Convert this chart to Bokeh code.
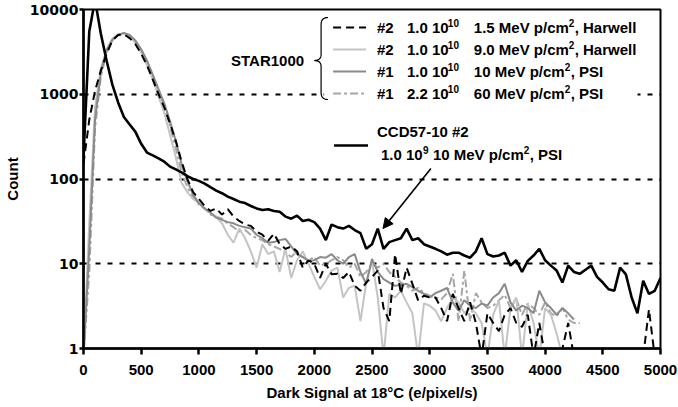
import numpy as np
from bokeh.plotting import figure
from bokeh.models import (ColumnDataSource, FixedTicker, NumeralTickFormatter, Label,
                          Arrow, NormalHead, Range1d)
from bokeh.embed import file_html
from bokeh.resources import INLINE

nan = float("nan")

# ---------------- data ----------------
dark_signal = list(range(0, 5001, 50))

ccd57_10MeV = [180, 5500, 13000, 5200, 2500, 1300, 800, 540, 440, 360,
               260, 205, 190, 175, 160, 140, 130, 120, 108, 100,
               95, 88, 80, 73, 68, 62, 58, 54, 52, 48,
               45, 43, 44, 42, 41, 36, 34, 37, 32, 33,
               31, 26, 19, 29, 27, 26, 28, 25, 23, 15,
               17, 26, 15, 18, 19, 20, 26, 19, 20, 17,
               16, 15, 14, 12.8, 13.5, 13.5, 12.5, 11.8, 14, 20,
               13, 12.2, 12.5, 13.5, 9.5, 11, 8, 10.8, 12.5, 15,
               11, 9.5, 8.3, 6, 9.5, 8, 7.6, 8.5, 9.5, 7,
               6, 5, 4.8, 9, 7.5, 4, 2.6, 6.3, 4.4, 4.8,
               6.8]

star2_1p5MeV = [150, 500, 1100, 1900, 3000, 4300, 5000, 5100, 4600, 3900,
                3000, 2200, 1500, 1000, 700, 450, 280, 160, 100, 70,
                58, 48, 42, 45, 38, 44, 36, 32, 29, 28,
                24, 22, 18.6, 22.6, 17, 15, 16, 14, 9, 11,
                10, 6.8, 10, 7.5, 7.6, 6.8, 8, 5.5, 4.8, 6,
                7, 8.3, 3, 2.1, 13, 4.4, 9, 5.8, 3.7, 4.2,
                4, 4, 3, 2.1, 4.4, 3, 2.1, 3.5, 2, 0.8,
                2.6, 2, 1.6, 2.5, 3, 2, 1.8, 2.5, 0.8, 2,
                0.8, 0.8, 0.8, 1, 2, 0.8,
                nan, nan, nan, nan, nan, nan, nan, nan, nan, nan, nan,
                0.8, 2.9, 0.8, nan]

star2_9MeV = [0.8, 30, 700, 2000, 3400, 4500, 5100, 5200, 4900, 4000,
              3100, 2200, 1500, 950, 600, 330, 180, 90, 70, 58,
              52, 44, 40, 36, 30, 22, 17.7, 26, 20, 14,
              9, 17, 13, 14, 8, 15, 6.8, 11, 14, 10,
              7, 5, 6.3, 8.3, 9, 4, 5.2, 5.5, 2.1, 6,
              11, 4, 0.8, 4.4, 4, 4.8, 3.5, 2.6, 0.8, 3.4,
              3.2, 2.8, 2.1, 3, 4, 3.5, 2.6, 3, 2.6, 2,
              0.8, 2.5, 3.7, 0.8, 3, 4, 0.8, 3.4, 2, 0.8,
              3, 2.5, 1.5, 0.8,
              nan, nan, nan, nan, nan, nan, nan, nan, nan, nan,
              nan, nan, nan, nan, nan, nan, nan]

star1_10MeV = [0.8, 15, 500, 1800, 3300, 4400, 5000, 5300, 5000, 4300,
               3400, 2500, 1700, 1150, 780, 480, 280, 150, 95, 65,
               52, 45, 40, 35, 33, 31, 30, 28, 27, 26,
               22, 20, 17.7, 18, 19, 19.6, 16, 13, 12, 10.8,
               11, 12, 11.8, 13, 11, 10, 12, 13, 8, 5.8,
               11.4, 8, 6.6, 6, 5.5, 5.6, 5.8, 5.3, 4.8, 4.4,
               4, 4.5, 4.8, 5.2, 3.5, 2.8, 3.7, 3.2, 3, 3.4,
               3.2, 4, 4.5, 5.8, 3.5, 2.8, 3.2, 3, 2.6, 4.8,
               3.5, 3, 2.5, 3, 2.6, 2.2,
               nan, nan, nan, nan, nan, nan, nan, nan, nan, nan,
               nan, nan, nan, nan, nan]

star1_60MeV = [0.8, 8, 400, 1600, 3100, 4300, 5000, 5200, 4900, 4100,
               3300, 2400, 1650, 1100, 720, 420, 230, 120, 80, 60,
               50, 45, 38, 36, 34, 30, 27, 24, 25, 22,
               20, 19, 17, 16, 15, 13.5, 12, 14, 12, 11,
               12, 9.5, 10, 11, 12, 11, 9, 10, 7, 8,
               10, 9, 10, 8, 7, 6, 5.5, 4.8, 5.2, 4.5,
               4.2, 4, 3.8, 4.5, 7.6, 2.1, 8.3, 2.1, 4.5, 3.5,
               3, 3.2, 3.7, 4.3, 3, 3.8, 2.5, 3.4, 3, 2.5,
               3.5, 2.6, 2.4, 3, 2.2, 2, 2,
               nan, nan, nan, nan, nan, nan, nan, nan, nan, nan,
               nan, nan, nan, nan]

x_ticks = [0, 500, 1000, 1500, 2000, 2500, 3000, 3500, 4000, 4500, 5000]
y_ticks = [1, 10, 100, 1000, 10000]

# ---------------- figure ----------------
W, H = 678, 407
FL, FR, FT, FB = 82, 660, 9, 348   # frame edges in pixels

p = figure(width=W, height=H, y_axis_type="log", output_backend="svg",
           toolbar_location=None, x_range=Range1d(0, 5000), y_range=Range1d(1, 10000),
           min_border_left=FL, min_border_right=W - FR, min_border_top=FT,
           min_border_bottom=H - FB)
p.background_fill_color = "white"
p.border_fill_color = "white"
p.outline_line_color = "black"
p.outline_line_width = 2

FONT = "Liberation Sans"

p.xgrid.grid_line_color = None
p.ygrid.grid_line_color = "black"
p.ygrid.grid_line_width = 2
p.ygrid.grid_line_dash = "5 7"

for ax in (p.xaxis[0], p.yaxis[0]):
    ax.axis_line_color = "black"
    ax.axis_line_width = 2.5
    ax.major_tick_line_color = "black"
    ax.major_tick_line_width = 2.5
    ax.major_tick_in = 0
    ax.minor_tick_line_color = None
    ax.axis_label_text_font = FONT
    ax.axis_label_text_font_style = "bold"
    ax.axis_label_text_font_size = "15px"
    ax.axis_label_text_color = "black"
    ax.major_label_text_color = "black"
    ax.major_label_text_font_style = "bold"

p.xaxis.ticker = FixedTicker(ticks=x_ticks)
p.xaxis.formatter = NumeralTickFormatter(format="0")
p.xaxis.major_tick_out = 6
p.xaxis.major_label_standoff = 10
p.xaxis.major_label_text_font = FONT
p.xaxis.major_label_text_font_size = "15px"
p.xaxis.axis_label = "Dark Signal at 18°C (e/pixel/s)"
p.xaxis.axis_label_standoff = 6

p.yaxis.ticker = FixedTicker(ticks=y_ticks)
p.yaxis.formatter = NumeralTickFormatter(format="0")
p.yaxis.major_tick_out = 4
p.yaxis.major_label_standoff = 1
p.yaxis.major_label_text_font = "DejaVu Sans"
p.yaxis.major_label_text_font_size = "14px"
p.yaxis.axis_label = "Count"
p.yaxis.axis_label_standoff = 6

src = ColumnDataSource(dict(x=dark_signal, ccd=ccd57_10MeV, s15=star2_1p5MeV,
                            s9=star2_9MeV, s10=star1_10MeV, s60=star1_60MeV))

styles = {
    "s60": dict(line_color="#a6a6a6", line_width=2, line_dash="8 3 3 3"),
    "s9": dict(line_color="#c4c4c4", line_width=2),
    "s10": dict(line_color="#8a8a8a", line_width=2),
    "s15": dict(line_color="black", line_width=2, line_dash="8 5"),
    "ccd": dict(line_color="black", line_width=2.6),
}
for key in ["s60", "s9", "s10", "s15", "ccd"]:
    p.line("x", key, source=src, **styles[key])

# ---------------- helpers: pixel -> data ----------------
def px2x(px):
    return (px - FL) / (FR - FL) * 5000.0

def py2y(py):
    return 10 ** ((FB - py) / ((FB - FT) / 4.0))

def label(px, py, text, size=15, align="left", font=FONT):
    p.add_layout(Label(x=px2x(px), y=py2y(py), text=text, text_font=font,
                       text_font_style="bold", text_font_size=f"{size}px",
                       text_align=align, text_baseline="middle", text_color="black"))

# ---------------- legend ----------------
# white legend box hiding the grid line behind the STAR1000 legend
p.quad(left=[px2x(323)], right=[px2x(637)], top=[py2y(12)], bottom=[py2y(103)],
       fill_color="white", line_color=None)

rows = [
    (27, "#2", "1.0 10", "10", "1.5 MeV p/cm", ", Harwell", "s15", 568),
    (49, "#2", "1.0 10", "10", "9.0 MeV p/cm", ", Harwell", "s9", 568),
    (71, "#1", "1.0 10", "10", "10 MeV p/cm", ", PSI", "s10", 564),
    (93, "#1", "2.2 10", "10", "60 MeV p/cm", ", PSI", "s60", 564),
]
for (ry, tag, flu, ex, en, site, key, supx) in rows:
    p.line([px2x(332), px2x(365)], [py2y(ry), py2y(ry)], **styles[key])
    label(376, ry, tag)
    label(406, ry, flu)
    label(447, ry - 5, ex, size=10)
    label(473, ry, en)
    label(supx, ry - 5, "2", size=10)
    label(supx + 6, ry, site)

label(303, 60, "STAR1000", align="right")

# curly brace
def qbez(a, c, b, n=14):
    t = np.linspace(0, 1, n)[:, None]
    a, c, b = np.array(a), np.array(c), np.array(b)
    return (1 - t) ** 2 * a + 2 * (1 - t) * t * c + t ** 2 * b

seg = [qbez((327, 17), (320, 17), (320, 24)),
       np.array([(320, 24), (320, 54)]),
       qbez((320, 54), (320, 60), (313, 60)),
       qbez((313, 60), (320, 60), (320, 66)),
       np.array([(320, 66), (320, 92)]),
       qbez((320, 92), (320, 99), (327, 99))]
pts = np.vstack(seg)
p.line([px2x(v) for v in pts[:, 0]], [py2y(v) for v in pts[:, 1]],
       line_color="black", line_width=1.2)

# CCD legend
p.line([px2x(333), px2x(367)], [py2y(145), py2y(145)], **styles["ccd"])
label(376, 131, "CCD57-10 #2")
label(380, 154, "1.0 10")
label(422, 149, "9", size=10)
label(432, 154, "10 MeV p/cm")
label(523, 149, "2", size=10)
label(529, 154, ", PSI")

# arrow
p.add_layout(Arrow(end=NormalHead(size=10, fill_color="black", line_color="black"),
                   x_start=px2x(430), y_start=py2y(168),
                   x_end=px2x(382), y_end=py2y(228),
                   line_color="black", line_width=1.6))

open("out.html", "w").write(file_html(p, INLINE))
